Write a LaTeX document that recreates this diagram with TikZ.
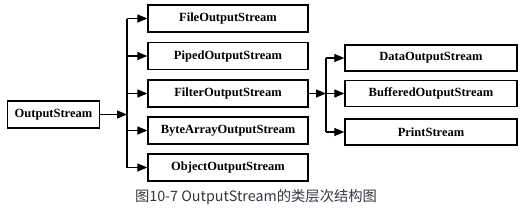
\documentclass[tikz,border=0pt]{standalone}
\usepackage{fontspec}
\setmainfont{Liberation Serif}
\newfontfamily\cjk{Noto Sans CJK SC}
\usetikzlibrary{arrows.meta}
\definecolor{captc}{RGB}{55,55,65}
\begin{document}
\begin{tikzpicture}[x=1pt,y=-1pt,
  cls/.style={draw=black,line width=1.3pt,inner sep=0pt,minimum height=27pt,font=\fontsize{12.5}{14}\selectfont\bfseries},
  mid/.style={cls,minimum width=160pt},
  rgt/.style={cls,minimum width=172pt,minimum height=26pt},
  conn/.style={line width=1.2pt},
  arr/.style={conn,-{Triangle[length=10pt,width=8pt]}}]
\useasboundingbox (0,0) rectangle (522,218);
\node[cls,minimum width=92pt] (os) at (53.5,114.5) {OutputStream};
\node[mid] (fos) at (228,18.5) {FileOutputStream};
\node[mid] (pos) at (228,56) {PipedOutputStream};
\node[mid] (flt) at (228,93.5) {FilterOutputStream};
\node[mid] (bos) at (228,130.5) {ByteArrayOutputStream};
\node[mid] (oos) at (228,167.5) {ObjectOutputStream};
\node[rgt] (dos) at (431,58) {DataOutputStream};
\node[rgt] (bfs) at (431,93.5) {BufferedOutputStream};
\node[rgt] (ps) at (431,132) {PrintStream};
\coordinate (j1) at (127,114.5);
\coordinate (j1t) at (127,18.5);
\coordinate (j1b) at (127,167.5);
\coordinate (j2) at (326,93.5);
\coordinate (j2t) at (326,58);
\coordinate (j2b) at (326,132);
\draw[arr] (os.east) -- (j1);
\draw[conn] (j1t) -- (j1b);
\foreach \n in {fos,pos,flt,bos,oos} \draw[arr] (\n.west -| j1) -- (\n.west);
\draw[arr] (flt.east) -- (j2);
\draw[conn] (j2t) -- (j2b);
\foreach \n in {dos,bfs,ps} \draw[arr] (\n.west -| j2) -- (\n.west);
\node[text=captc,font=\cjk\fontsize{14.3}{16}\selectfont] (cap) at (256,197) {图10-7 OutputStream的类层次结构图};
\end{tikzpicture}
\end{document}
